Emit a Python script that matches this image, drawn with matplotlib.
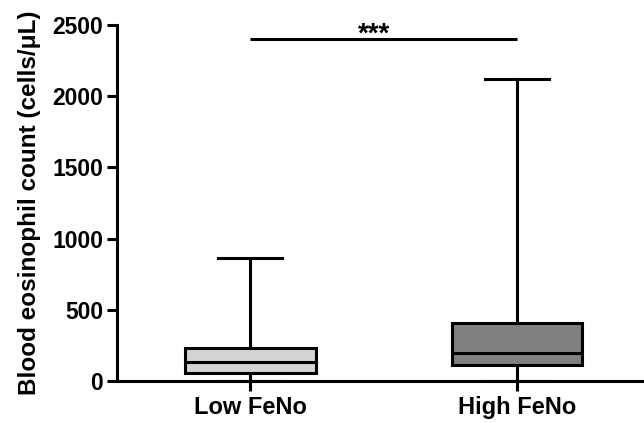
import matplotlib
matplotlib.use("Agg")
import matplotlib.pyplot as plt

categories = ["Low FeNo", "High FeNo"]
whislo = [0, 0]
q1 = [58, 110]
medians = [133, 199]
q3 = [232, 405]
whishi = [864, 2120]
colors = ["#d3d3d3", "#808080"]
yticks = [0, 500, 1000, 1500, 2000, 2500]
sig_y = 2400
sig_text = "***"

plt.rcParams['font.family'] = ['Liberation Sans', 'DejaVu Sans']
plt.rcParams['font.weight'] = 'bold'

fig = plt.figure(figsize=(6.44, 4.23), dpi=100)
ax = fig.add_axes([117/644, 1-381/423, 1-117/644, (381-25)/423])

stats = []
for i in range(len(categories)):
    stats.append(dict(med=medians[i], q1=q1[i], q3=q3[i], whislo=whislo[i], whishi=whishi[i], label=categories[i]))

lw = 2.2
bp = ax.bxp(stats, positions=range(len(categories)), widths=0.49, showfliers=False, patch_artist=True,
            boxprops=dict(linewidth=lw, edgecolor='black'),
            medianprops=dict(linewidth=lw, color='black'),
            whiskerprops=dict(linewidth=lw, color='black'),
            capprops=dict(linewidth=lw, color='black'),
            capwidths=0.24)
for patch, c in zip(bp['boxes'], colors):
    patch.set_facecolor(c)

ax.plot([0, 1], [sig_y, sig_y], color='black', lw=lw, solid_capstyle='butt')
ax.text(0.465, sig_y - 60, sig_text, ha='center', va='bottom', fontsize=20, fontweight='bold')

ax.set_ylim(0, 2500)
ax.set_xlim(-0.5, 1.476)
ax.set_yticks(yticks)
ax.set_yticklabels([str(v) for v in yticks])
ax.set_xticks(range(len(categories)))
ax.set_xticklabels(categories)
ax.set_ylabel("Blood eosinophil count (cells/\u03bcL)", fontsize=17.5, fontweight='bold', labelpad=8)

for s in ['top', 'right']:
    ax.spines[s].set_visible(False)
for s in ['left', 'bottom']:
    ax.spines[s].set_linewidth(lw)
ax.tick_params(axis='both', width=lw, length=7, direction='out')
ax.tick_params(axis='y', labelsize=16.5, pad=3)
ax.tick_params(axis='x', labelsize=17, pad=4)
for lab in ax.get_xticklabels() + ax.get_yticklabels():
    lab.set_fontweight('bold')

fig.savefig("out.png", dpi=100)
